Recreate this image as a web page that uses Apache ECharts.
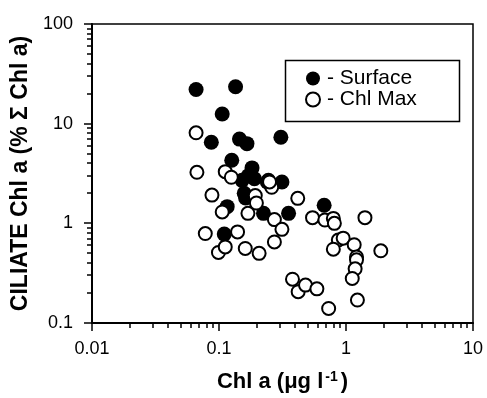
<!DOCTYPE html>
<html>
<head>
<meta charset="utf-8">
<script src="https://cdn.jsdelivr.net/npm/echarts@6/dist/echarts.min.js"></script>
<style>
html, body { margin: 0; padding: 0; background: #fff; }
#main { width: 487px; height: 398px; }
</style>
</head>
<body>
<div id="main"></div>
<script>
// [Chl a (ug/l), ciliate % of Chl a]
var surface = [
    [0.066, 22], [0.135, 23.5], [0.106, 12.5], [0.087, 6.5], [0.145, 7.0],
    [0.166, 6.3], [0.307, 7.3], [0.126, 4.3], [0.182, 3.6], [0.152, 2.7],
    [0.190, 2.8], [0.245, 2.7], [0.313, 2.6], [0.158, 2.0], [0.162, 1.8],
    [0.116, 1.47], [0.224, 1.26], [0.353, 1.26], [0.110, 0.78], [0.673, 1.52],
    [0.170, 3.0], [0.240, 2.6]
];
var chlMax = [
    [0.066, 8.1], [0.067, 3.25], [0.088, 1.92], [0.112, 3.3], [0.125, 2.9],
    [0.106, 1.3], [0.078, 0.79], [0.099, 0.51], [0.112, 0.58], [0.140, 0.82],
    [0.161, 0.56], [0.207, 0.50], [0.169, 1.26], [0.193, 1.9], [0.197, 1.6],
    [0.260, 2.3], [0.250, 2.6], [0.273, 1.09], [0.313, 0.87], [0.273, 0.65],
    [0.417, 1.78], [0.545, 1.14], [0.682, 1.08], [0.795, 1.12], [0.81, 1.0],
    [1.41, 1.14], [0.87, 0.68], [0.95, 0.71], [0.795, 0.55], [1.16, 0.61],
    [1.21, 0.46], [1.21, 0.43], [1.18, 0.35], [1.12, 0.28], [1.88, 0.53],
    [0.379, 0.275], [0.42, 0.206], [0.48, 0.24], [0.59, 0.22], [0.73, 0.14],
    [1.23, 0.17]
];
var xMajor = [0.01, 0.1, 1, 10];
var yMajor = [0.1, 1, 10, 100];
var xMinor = [0.02, 0.03, 0.04, 0.05, 0.06, 0.07, 0.08, 0.09,
    0.2, 0.3, 0.4, 0.5, 0.6, 0.7, 0.8, 0.9,
    2, 3, 4, 5, 6, 7, 8, 9];
var yMinor = [0.2, 0.3, 0.4, 0.5, 0.6, 0.7, 0.8, 0.9,
    2, 3, 4, 5, 6, 7, 8, 9,
    20, 30, 40, 50, 60, 70, 80, 90];

var font = "'Liberation Sans', Arial, sans-serif";
var myChart = echarts.init(document.getElementById("main"));

var gridBox = { left: 92, right: 14, top: 24, bottom: 75 };

var legendBox = {
    type: "rect",
    left: 283, top: 58,
    shape: { width: 174, height: 61 },
    style: { fill: "none", stroke: "#000", lineWidth: 1.5 }
};

var option = {
    animation: false,
    grid: {
        left: gridBox.left, right: gridBox.right, top: gridBox.top, bottom: gridBox.bottom,
        show: true, borderColor: "#000", borderWidth: 1.5
    },
    legend: {
        orient: "vertical",
        left: 300,
        top: 63,
        itemWidth: 14,
        itemHeight: 14,
        itemGap: 0,
        textStyle: { color: "#000", fontSize: 21, fontFamily: font, lineHeight: 20, padding: [0, 0, 0, 2] },
        data: [{ name: "- Surface", icon: "circle" }, { name: "- Chl Max", icon: "circle" }]
    },
    graphic: [legendBox],
    xAxis: {
        type: "log",
        logBase: 10,
        min: 0.01,
        max: 10,
        axisLine: { show: true, lineStyle: { color: "#000", width: 2 } },
        axisTick: { show: false },
        splitLine: { show: false },
        axisLabel: { color: "#000", fontSize: 18, fontFamily: font, margin: 17 },
        name: "{b|Chl a (\u03bcg l}{s|-1}{b|)}",
        nameLocation: "middle",
        nameGap: 47,
        nameTextStyle: {
            rich: {
                b: { fontSize: 22, fontWeight: "bold", fontFamily: font, color: "#000" },
                s: { fontSize: 14, fontWeight: "bold", fontFamily: font, color: "#000", verticalAlign: "top", padding: [0, 3, 9, 2] }
            }
        }
    },
    yAxis: {
        type: "log",
        logBase: 10,
        min: 0.1,
        max: 100,
        axisLine: { show: true, lineStyle: { color: "#000", width: 2 } },
        axisTick: { show: false },
        splitLine: { show: false },
        axisLabel: { color: "#000", fontSize: 18, fontFamily: font, margin: 19 },
        name: "CILIATE Chl a (% \u03a3 Chl a)",
        nameLocation: "middle",
        nameGap: 55,
        nameTextStyle: { color: "#000", fontSize: 23, fontWeight: "bold", fontFamily: font }
    },
    series: [
        {
            name: "- Surface",
            type: "scatter",
            symbol: "circle",
            symbolSize: 15,
            itemStyle: { color: "#000", opacity: 1 },
            data: surface
        },
        {
            name: "- Chl Max",
            type: "scatter",
            symbol: "circle",
            symbolSize: 13,
            itemStyle: { color: "#fff", borderColor: "#000", borderWidth: 2, opacity: 1 },
            data: chlMax
        }
    ]
};
myChart.setOption(option);

// ticks: position from the chart's scale, falling back to the grid box
var W = 487, H = 398;
var plotW = W - gridBox.left - gridBox.right;
var plotH = H - gridBox.top - gridBox.bottom;
function xPix(v) {
    var p = myChart.convertToPixel({ xAxisIndex: 0 }, v);
    if (typeof p !== "number" || !isFinite(p)) {
        p = gridBox.left + plotW * (Math.log10(v) + 2) / 3;
    }
    return Math.round(p);
}
function yPix(v) {
    var p = myChart.convertToPixel({ yAxisIndex: 0 }, v);
    if (typeof p !== "number" || !isFinite(p)) {
        p = gridBox.top + plotH * (2 - Math.log10(v)) / 3;
    }
    return Math.round(p);
}
var axisY = H - gridBox.bottom;
var axisX = gridBox.left;
var tickLines = [legendBox];
function tick(shape) {
    tickLines.push({
        type: "line",
        shape: shape,
        silent: true,
        z: 100,
        style: { stroke: "#000", lineWidth: 1.5, fill: null }
    });
}
xMajor.forEach(function (v) { var x = xPix(v); tick({ x1: x, y1: axisY, x2: x, y2: axisY + 8 }); });
xMinor.forEach(function (v) { var x = xPix(v); tick({ x1: x, y1: axisY, x2: x, y2: axisY + 5 }); });
yMajor.forEach(function (v) { var y = yPix(v); tick({ x1: axisX - 8, y1: y, x2: axisX, y2: y }); });
yMinor.forEach(function (v) { var y = yPix(v); tick({ x1: axisX - 5, y1: y, x2: axisX, y2: y }); });
myChart.setOption({ graphic: tickLines });
</script>
</body>
</html>
